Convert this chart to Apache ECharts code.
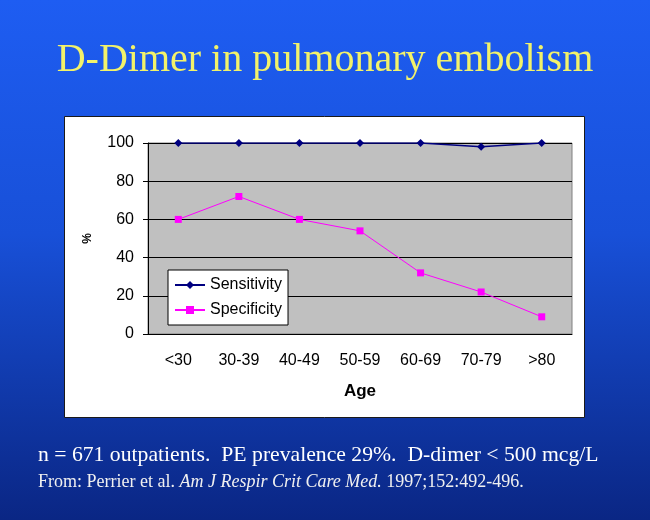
<!DOCTYPE html>
<html>
<head>
<meta charset="utf-8">
<script src="https://cdn.jsdelivr.net/npm/echarts@6/dist/echarts.min.js"></script>
<style>
  html, body { margin: 0; padding: 0; }
  #chart { width: 650px; height: 520px; }
</style>
</head>
<body>
<div id="chart"></div>
<script>
// data
const ageGroups = ['<30', '30-39', '40-49', '50-59', '60-69', '70-79', '>80']
const sensitivity = [100, 100, 100, 100, 100, 98, 100]
const specificity = [60, 72, 60, 54, 32, 22, 9]

const chart = echarts.init(document.getElementById('chart'))

const axisFont = 'Liberation Sans'

const options = {
  backgroundColor: {
    type: 'linear', x: 0, y: 0, x2: 0, y2: 1,
    colorStops: [
      { offset: 0, color: '#1E5DF2' },
      { offset: 0.45, color: '#1850D8' },
      { offset: 1, color: '#0A2684' }
    ]
  },
  title: [
    {
      text: 'D-Dimer in pulmonary embolism',
      left: 'center',
      top: 35,
      textStyle: {
        color: '#F2F26A',
        fontFamily: 'Liberation Serif',
        fontWeight: 'normal',
        fontSize: 40
      }
    },
    {
      text: 'n = 671 outpatients.  PE prevalence 29%.  D-dimer < 500 mcg/L',
      left: 33,
      top: 439,
      textStyle: {
        color: '#ffffff',
        fontFamily: 'Liberation Serif',
        fontWeight: 'normal',
        fontSize: 21.7
      }
    },
    {
      text: '{a|From: Perrier et al. }{b|Am J Respir Crit Care Med.}{a| 1997;152:492-496.}',
      left: 33,
      top: 468,
      textStyle: {
        rich: {
          a: { color: '#f0f0f0', fontFamily: 'Liberation Serif', fontWeight: 'normal', fontSize: 18 },
          b: { color: '#f0f0f0', fontFamily: 'Liberation Serif', fontWeight: 'normal', fontSize: 18, fontStyle: 'italic' }
        }
      }
    }
  ],
  // white chart box behind the plot
  graphic: [
    {
      type: 'rect',
      z: -10,
      shape: { x: 64.5, y: 116.5, width: 520, height: 301 },
      style: { fill: '#ffffff', stroke: '#1a1a1a', lineWidth: 1 }
    }
  ],
  grid: {
    show: true,
    left: 148,
    top: 143,
    right: 78,
    bottom: 186,
    backgroundColor: '#C0C0C0',
    borderColor: '#808080',
    borderWidth: 1
  },
  legend: {
    orient: 'vertical',
    left: 168,
    top: 270,
    backgroundColor: '#ffffff',
    borderColor: '#000000',
    borderWidth: 1,
    borderRadius: 0,
    padding: [7, 6, 7, 6],
    itemGap: 9,
    itemWidth: 30,
    itemHeight: 10,
    textStyle: { color: '#000', fontFamily: axisFont, fontSize: 16 },
    data: ['Sensitivity', 'Specificity']
  },
  xAxis: {
    type: 'category',
    boundaryGap: true,
    data: ageGroups,
    name: 'Age',
    nameLocation: 'middle',
    nameGap: 49,
    nameTextStyle: { color: '#000', fontFamily: axisFont, fontSize: 17, fontWeight: 'bold' },
    axisLine: { show: true, lineStyle: { color: '#000', width: 1 } },
    axisTick: { show: false },
    axisLabel: { interval: 0, color: '#000', fontFamily: axisFont, fontSize: 16, margin: 19 },
    splitLine: { show: false }
  },
  yAxis: {
    type: 'value',
    min: 0,
    max: 100,
    interval: 20,
    name: '%',
    nameLocation: 'middle',
    nameGap: 54,
    nameRotate: 90,
    nameTextStyle: { color: '#000', fontFamily: axisFont, fontSize: 12, fontWeight: 'bold' },
    axisLine: { show: true, lineStyle: { color: '#000', width: 1 } },
    axisTick: { show: true, length: 5, lineStyle: { color: '#000' } },
    axisLabel: { color: '#000', fontFamily: axisFont, fontSize: 16, margin: 14 },
    splitLine: { show: true, lineStyle: { color: '#000', width: 1, type: 'solid' } }
  },
  series: [
    {
      name: 'Sensitivity',
      type: 'line',
      data: sensitivity,
      symbol: 'diamond',
      symbolSize: 8,
      color: '#000080',
      lineStyle: { color: '#000080', width: 1.5 },
      itemStyle: { color: '#000080' },
      animation: false
    },
    {
      name: 'Specificity',
      type: 'line',
      data: specificity,
      symbol: 'rect',
      symbolSize: 7,
      color: '#FF00FF',
      lineStyle: { color: '#FF00FF', width: 1 },
      itemStyle: { color: '#FF00FF' },
      animation: false
    }
  ]
}

chart.setOption(options)
</script>
</body>
</html>
